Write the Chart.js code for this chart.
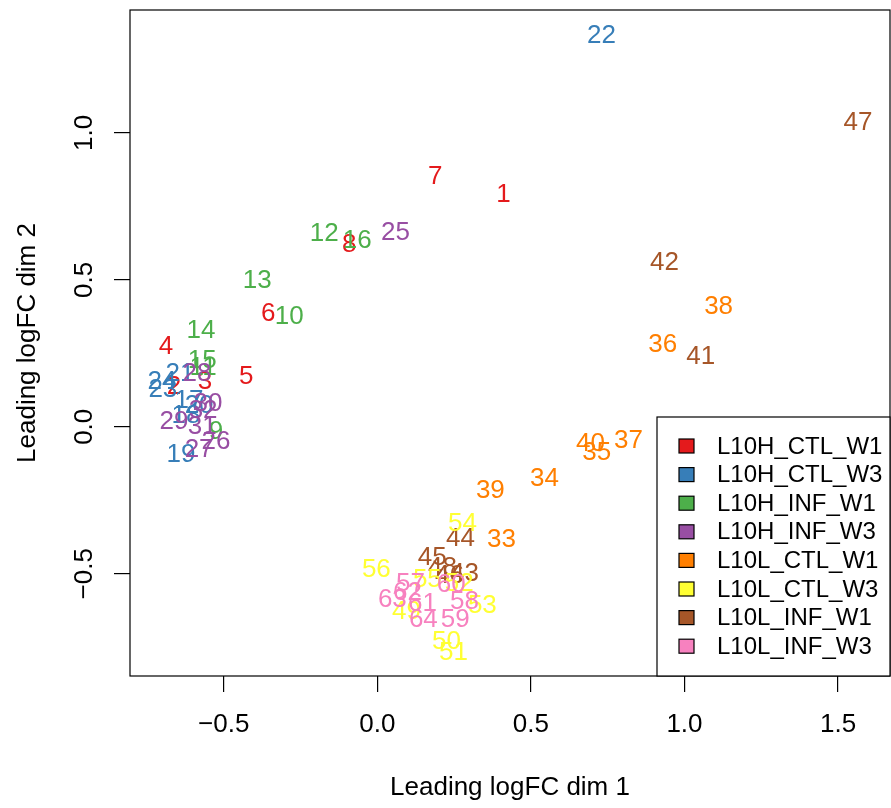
<!DOCTYPE html>
<html>
<head>
<meta charset="utf-8">
<script src="https://cdn.jsdelivr.net/npm/chart.js@4.4.0/dist/chart.umd.min.js"></script>
<style>
  html, body { margin: 0; padding: 0; background: #fff; }
  #wrap { width: 891px; height: 808px; }
</style>
</head>
<body>
<div id="wrap"><canvas id="mds" width="891" height="808"></canvas></div>
<script>
// BEGIN: DATA
const groupNames = ["L10H_CTL_W1", "L10H_CTL_W3", "L10H_INF_W1", "L10H_INF_W3",
                    "L10L_CTL_W1", "L10L_CTL_W3", "L10L_INF_W1", "L10L_INF_W3"];
const groupColors = ["#E41A1C", "#377EB8", "#4DAF4A", "#984EA3",
                     "#FF7F00", "#FFFF33", "#A65628", "#F781BF"];

// sample numbers, one list per group (same order as groupNames)
const sampleIds = [
  [1, 2, 3, 4, 5, 6, 7, 8],
  [17, 18, 19, 20, 21, 22, 23, 24],
  [9, 10, 11, 12, 13, 14, 15, 16],
  [25, 26, 27, 28, 29, 30, 31, 32],
  [33, 34, 35, 36, 37, 38, 39, 40],
  [49, 50, 51, 52, 53, 54, 55, 56],
  [41, 42, 43, 44, 45, 46, 47, 48],
  [57, 58, 59, 60, 61, 62, 63, 64],
];

// leading logFC dim 1
const dim1 = [
  [0.411, -0.662, -0.561, -0.688, -0.427, -0.355, 0.189, -0.091],
  [-0.613, -0.623, -0.639, -0.580, -0.642, 0.730, -0.698, -0.701],
  [-0.525, -0.287, -0.567, -0.173, -0.391, -0.574, -0.570, -0.065],
  [0.059, -0.525, -0.580, -0.587, -0.662, -0.551, -0.570, -0.567],
  [0.404, 0.544, 0.714, 0.929, 0.818, 1.111, 0.368, 0.694],
  [0.095, 0.225, 0.248, 0.267, 0.342, 0.277, 0.163, -0.003],
  [1.053, 0.935, 0.284, 0.271, 0.179, 0.235, 1.565, 0.212],
  [0.108, 0.284, 0.254, 0.241, 0.147, 0.098, 0.049, 0.150],
];

// leading logFC dim 2
const dim2 = [
  [0.796, 0.143, 0.160, 0.279, 0.177, 0.391, 0.857, 0.626],
  [0.095, 0.044, -0.088, 0.078, 0.187, 1.337, 0.133, 0.160],
  [-0.010, 0.381, 0.207, 0.663, 0.503, 0.333, 0.231, 0.639],
  [0.667, -0.044, -0.071, 0.187, 0.024, 0.085, 0.007, 0.061],
  [-0.378, -0.170, -0.082, 0.286, -0.041, 0.415, -0.211, -0.051],
  [-0.622, -0.724, -0.762, -0.527, -0.602, -0.323, -0.514, -0.480],
  [0.245, 0.565, -0.493, -0.374, -0.439, -0.500, 1.041, -0.473],
  [-0.527, -0.588, -0.650, -0.531, -0.595, -0.558, -0.582, -0.650],
];

const xTicks = [-0.5, 0, 0.5, 1, 1.5];
const xTickLabels = ["\u22120.5", "0.0", "0.5", "1.0", "1.5"];
const yTicks = [-0.5, 0, 0.5, 1];
const yTickLabels = ["\u22120.5", "0.0", "0.5", "1.0"];
// END: DATA

const FONT = "'Liberation Sans', Arial, sans-serif";

// the sample numbers are the marks, drawn in sample order like R's text()
const sampleText = {
  id: "sampleText",
  afterDatasetsDraw(chart) {
    const ctx = chart.ctx;
    let items = [];
    chart.data.datasets.forEach((ds, di) => {
      const meta = chart.getDatasetMeta(di);
      meta.data.forEach((pt, i) => {
        items.push({ id: ds.ids[i], x: pt.x, y: pt.y, color: ds.textColor });
      });
    });
    items.sort((a, b) => a.id - b.id);
    ctx.save();
    ctx.font = "26px " + FONT;
    ctx.textAlign = "center";
    ctx.textBaseline = "middle";
    items.forEach((it) => {
      ctx.fillStyle = it.color;
      // +2: canvas "middle" sits a touch above R's centring of digits
      ctx.fillText(String(it.id), it.x, it.y + 2);
    });
    ctx.restore();
  },
};

// box, tick labels, axis titles and the legend (R base graphics look)
const rFrame = {
  id: "rFrame",
  afterDraw(chart) {
    const ctx = chart.ctx;
    const a = chart.chartArea;
    const xs = chart.scales.x;
    const ys = chart.scales.y;
    ctx.save();
    ctx.strokeStyle = "#000";
    ctx.lineWidth = 1.2;
    ctx.strokeRect(a.left, a.top, a.right - a.left, a.bottom - a.top);

    ctx.fillStyle = "#000";
    ctx.font = "26px " + FONT;
    ctx.textAlign = "center";
    ctx.textBaseline = "middle";
    xTicks.forEach((v, i) => {
      ctx.fillText(xTickLabels[i], xs.getPixelForValue(v), a.bottom + 49);
    });
    ctx.fillText("Leading logFC dim 1", (a.left + a.right) / 2, a.bottom + 112);

    yTicks.forEach((v, i) => {
      ctx.save();
      ctx.translate(a.left - 45, ys.getPixelForValue(v));
      ctx.rotate(-Math.PI / 2);
      ctx.fillText(yTickLabels[i], 0, 0);
      ctx.restore();
    });
    ctx.save();
    ctx.translate(28, (a.top + a.bottom) / 2);
    ctx.rotate(-Math.PI / 2);
    ctx.fillText("Leading logFC dim 2", 0, 0);
    ctx.restore();

    // legend, bottom right corner
    const lx = 657, ly = 417;
    ctx.fillStyle = "#fff";
    ctx.fillRect(lx, ly, a.right - lx, a.bottom - ly);
    ctx.strokeRect(lx, ly, a.right - lx, a.bottom - ly);
    ctx.font = "24px " + FONT;
    ctx.textAlign = "left";
    groupNames.forEach((name, i) => {
      const cy = 446 + i * 28.6;
      ctx.fillStyle = groupColors[i];
      ctx.fillRect(679, cy - 7, 15, 14);
      ctx.lineWidth = 1.2;
      ctx.strokeRect(679, cy - 7, 15, 14);
      ctx.fillStyle = "#000";
      ctx.fillText(name, 717, cy + 1);
    });
    ctx.restore();
  },
};

const datasets = groupNames.map((name, g) => ({
  label: name,
  ids: sampleIds[g],
  textColor: groupColors[g],
  data: dim1[g].map((x, i) => ({ x: x, y: dim2[g][i] })),
  pointRadius: 0,
  pointHoverRadius: 0,
}));

new Chart(document.getElementById("mds"), {
  type: "scatter",
  data: { datasets: datasets },
  plugins: [sampleText, rFrame],
  options: {
    responsive: false,
    animation: false,
    layout: { padding: { top: 10, right: 1, left: 0, bottom: 0 } },
    plugins: { legend: { display: false }, tooltip: { enabled: false } },
    scales: {
      x: {
        type: "linear",
        min: -0.805,
        max: 1.669,
        afterBuildTicks: (s) => { s.ticks = xTicks.map((v) => ({ value: v })); },
        afterFit: (s) => { s.height = 132; },
        ticks: { display: false },
        grid: { drawOnChartArea: false, drawTicks: true, tickLength: 16, color: "#000", lineWidth: 1.2 },
        border: { display: false },
      },
      y: {
        type: "linear",
        min: -0.848,
        max: 1.418,
        afterBuildTicks: (s) => { s.ticks = yTicks.map((v) => ({ value: v })); },
        afterFit: (s) => { s.width = 130; },
        ticks: { display: false },
        grid: { drawOnChartArea: false, drawTicks: true, tickLength: 16, color: "#000", lineWidth: 1.2 },
        border: { display: false },
      },
    },
  },
});
</script>
</body>
</html>
